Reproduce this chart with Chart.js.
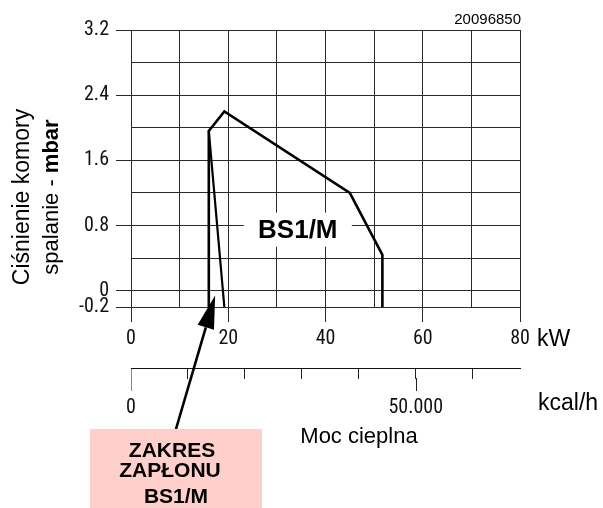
<!DOCTYPE html>
<html>
<head>
<meta charset="utf-8">
<script src="https://cdn.jsdelivr.net/npm/chart.js@4.4.1/dist/chart.umd.min.js"></script>
<style>
  html, body { margin: 0; padding: 0; background: #fff; }
</style>
</head>
<body>
<canvas id="chart" width="603" height="508"></canvas>
<script>
// working range curve BS1/M (kW / mbar)
const envelopeKw = [16, 16, 19.2, 45, 51.7, 51.7];
const envelopeMbar = [-0.2, 1.96, 2.2, 1.2, 0.44, -0.2];
// ignition range line
const ignitionKw = [16, 19.2];
const ignitionMbar = [1.96, -0.2];

const xTicks = [0, 10, 20, 30, 40, 50, 60, 70, 80];
const xLabelled = [0, 20, 40, 60, 80];
const yTicks = [-0.2, 0, 0.4, 0.8, 1.2, 1.6, 2.0, 2.4, 2.8, 3.2];
const yLabelled = [-0.2, 0, 0.8, 1.6, 2.4, 3.2];
const kcalTicks = [0, 10000, 20000, 30000, 40000, 50000, 60000];
const kcalLabels = { 0: "0", 50000: "50.000" };

const NARROW = "'Roboto Condensed', 'Liberation Sans Narrow', sans-serif";
const SANS = "'Liberation Sans', Arial, sans-serif";
const GRID = "#2a2a2a";

const toPoints = (xs, ys) => xs.map((v, i) => ({ x: v, y: ys[i] }));

const extras = {
  id: "extras",
  afterDraw(chart) {
    const ctx = chart.ctx;
    const x = chart.scales.x;
    const y = chart.scales.y;
    const x2 = chart.scales.x2;
    ctx.save();

    // curve label with white background
    const cx = x.getPixelForValue(34.3);
    const cy = y.getPixelForValue(0.75);
    ctx.fillStyle = "#fff";
    ctx.fillRect(cx - 54, cy - 17, 108, 34);
    ctx.fillStyle = "#000";
    ctx.font = "bold 26px " + SANS;
    ctx.textAlign = "center";
    ctx.textBaseline = "middle";
    ctx.fillText("BS1/M", cx, cy + 1);

    // longer ticks on kcal/h axis
    ctx.lineWidth = 1;
    [0, 50000].forEach(v => {
      const px = Math.round(x2.getPixelForValue(v)) + 0.5;
      ctx.strokeStyle = v === 0 ? "#888" : "#222";
      ctx.beginPath();
      ctx.moveTo(px, x2.top + 10);
      ctx.lineTo(px, x2.top + 23);
      ctx.stroke();
    });

    // arrow to the ignition range
    const tipX = x.getPixelForValue(17.3);
    const tipY = y.getPixelForValue(-0.06);
    const tailX = 176, tailY = 429;
    const ang = Math.atan2(tipY - tailY, tipX - tailX);
    const headLen = 33, headW = 8.5;
    const bx = tipX - headLen * Math.cos(ang), by = tipY - headLen * Math.sin(ang);
    ctx.strokeStyle = "#000";
    ctx.lineWidth = 2.6;
    ctx.beginPath();
    ctx.moveTo(tailX, tailY);
    ctx.lineTo(bx, by);
    ctx.stroke();
    ctx.fillStyle = "#000";
    ctx.beginPath();
    ctx.moveTo(tipX, tipY);
    ctx.lineTo(bx + headW * Math.sin(ang), by - headW * Math.cos(ang));
    ctx.lineTo(bx - headW * Math.sin(ang), by + headW * Math.cos(ang));
    ctx.closePath();
    ctx.fill();

    // ignition range box
    ctx.fillStyle = "#ffcfcc";
    ctx.fillRect(90, 429, 172, 80);
    ctx.fillStyle = "#000";
    ctx.font = "bold 21px " + SANS;
    ctx.textAlign = "center";
    ctx.textBaseline = "alphabetic";
    ctx.fillText("ZAKRES", 172, 457);
    ctx.fillText("ZAPŁONU", 170, 477);
    ctx.fillText("BS1/M", 176, 503);

    // units and axis titles
    ctx.font = "23px " + SANS;
    ctx.textAlign = "left";
    ctx.fillText("kW", 537, 346);
    ctx.fillText("kcal/h", 538, 410);
    ctx.font = "22px " + SANS;
    ctx.textAlign = "center";
    ctx.fillText("Moc cieplna", 359, 443);
    ctx.font = "15px " + SANS;
    ctx.textAlign = "right";
    ctx.fillText("20096850", 521, 24);

    // rotated y title
    ctx.translate(0, 197);
    ctx.rotate(-Math.PI / 2);
    ctx.textBaseline = "middle";
    ctx.textAlign = "center";
    ctx.font = "23px " + SANS;
    ctx.fillText("Ciśnienie komory", 0, 23);
    const part1 = "spalanie - ";
    const part2 = "mbar";
    ctx.font = "22px " + SANS;
    const w1 = ctx.measureText(part1).width;
    ctx.font = "bold 22px " + SANS;
    const w2 = ctx.measureText(part2).width;
    const start = -(w1 + w2) / 2;
    ctx.textAlign = "left";
    ctx.font = "22px " + SANS;
    ctx.fillText(part1, start, 52);
    ctx.font = "bold 22px " + SANS;
    ctx.fillText(part2, start + w1, 52);

    ctx.restore();
  }
};

new Chart(document.getElementById("chart"), {
  type: "scatter",
  data: {
    datasets: [
      {
        data: toPoints(envelopeKw, envelopeMbar),
        showLine: true,
        borderColor: "#000",
        borderWidth: 2.6,
        borderJoinStyle: "miter",
        pointRadius: 0,
        tension: 0,
        fill: false
      },
      {
        data: toPoints(ignitionKw, ignitionMbar),
        showLine: true,
        borderColor: "#000",
        borderWidth: 2.2,
        pointRadius: 0,
        tension: 0,
        fill: false
      }
    ]
  },
  options: {
    responsive: false,
    animation: false,
    layout: { padding: { top: 30, right: 83, left: 0, bottom: 0 } },
    plugins: {
      legend: { display: false },
      tooltip: { enabled: false }
    },
    scales: {
      x: {
        type: "linear",
        position: "bottom",
        min: 0,
        max: 80,
        afterBuildTicks: s => { s.ticks = xTicks.map(v => ({ value: v })); },
        afterFit: s => { s.height = 61; },
        ticks: {
          autoSkip: false,
          maxRotation: 0,
          padding: 5,
          color: "#111",
          font: { family: NARROW, size: 20 },
          callback: v => xLabelled.includes(v) ? String(v) : ""
        },
        grid: {
          color: GRID,
          lineWidth: 1,
          tickLength: 15,
          tickColor: c => xLabelled.includes(c.tick.value) ? GRID : "rgba(0,0,0,0)"
        },
        border: { color: GRID, width: 1 }
      },
      x2: {
        type: "linear",
        position: "bottom",
        weight: 1,
        min: 0,
        max: 68300,
        afterBuildTicks: s => { s.ticks = kcalTicks.map(v => ({ value: v })); },
        afterFit: s => { s.height = 140; },
        ticks: {
          autoSkip: false,
          maxRotation: 0,
          padding: 17,
          color: "#111",
          font: { family: NARROW, size: 20 },
          callback: v => kcalLabels[v] || ""
        },
        grid: {
          drawOnChartArea: false,
          tickLength: 11,
          lineWidth: 1,
          tickColor: c => c.tick.value === 0 ? "#888" : "#222"
        },
        border: { color: "#111", width: 1 }
      },
      y: {
        type: "linear",
        min: -0.2,
        max: 3.2,
        afterBuildTicks: s => { s.ticks = yTicks.map(v => ({ value: v })); },
        afterFit: s => { s.width = 131; },
        ticks: {
          autoSkip: false,
          padding: 7,
          color: "#111",
          font: { family: NARROW, size: 20 },
          callback: v => yLabelled.includes(v) ? String(v) : ""
        },
        grid: {
          color: GRID,
          lineWidth: 1,
          tickLength: 15,
          tickColor: c => yLabelled.includes(c.tick.value) ? GRID : "rgba(0,0,0,0)"
        },
        border: { color: GRID, width: 1 }
      }
    }
  },
  plugins: [extras]
});
</script>
</body>
</html>
